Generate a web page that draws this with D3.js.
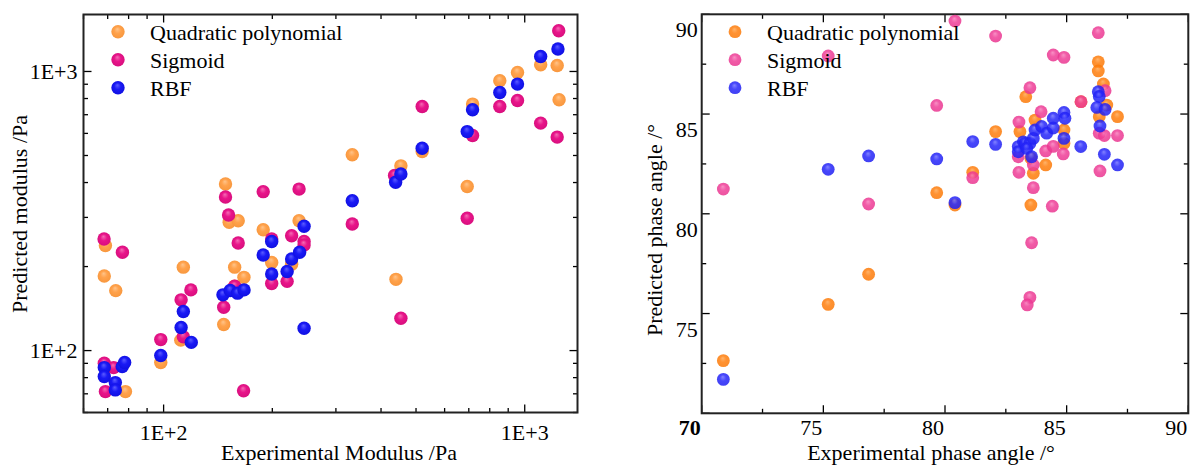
<!DOCTYPE html>
<html>
<head>
<meta charset="utf-8">
<script src="https://cdn.jsdelivr.net/npm/d3@7"></script>
<style>
body { margin:0; background:#fff; }
svg text { font-family: "Liberation Serif", "Times New Roman", serif; fill:#000; }
</style>
</head>
<body>
<div id="chart"></div>
<script>
////////////////////////////////////////////////////
// left panel : modulus, Pa (experimental vs predicted)
var modQuadX = [69.0, 68.5, 73.7, 78.4, 98.2, 113.4, 111.6, 148.4, 151.9, 160.9, 157.3, 166.9, 146.7, 157.3, 188.7, 199.2, 226.2, 237.2, 440, 333, 454, 520, 693, 717, 853, 955, 1107, 1230, 1245];
var modQuadY = [238, 185, 164, 71.3, 90.6, 199, 109, 395, 288, 292, 199, 183, 124, 170, 271, 207, 204, 292, 180, 503, 459, 517, 387, 764, 926, 992, 1057, 1051, 792];
var modSigX = [68.4, 76.9, 68.5, 72.7, 69.0, 98.2, 119, 111.8, 113.4, 148.4, 151.3, 160.9, 157.3, 146.7, 166.5, 188.7, 199.2, 199.2, 219.8, 226.2, 237.2, 244.9, 244.9, 333, 436, 454, 520, 717, 693, 853, 955, 1107, 1230, 1242];
var modSigY = [251, 225, 90.1, 86.9, 71.3, 109.5, 165, 152, 112, 355, 306, 243, 170, 143, 71.8, 371, 251, 174, 177, 258, 379, 246, 239, 284, 424, 130.6, 749, 590, 298, 749, 787, 653, 582, 1399];
var modRbfX = [68.5, 68.5, 76.8, 78.0, 73.5, 73.5, 98.2, 113.4, 111.8, 119.3, 146, 152.9, 160.2, 167, 188.7, 199.2, 199.2, 219.8, 226.2, 238, 244.9, 244.9, 333, 439, 454, 520, 693, 717, 853, 955, 1107, 1236];
var modRbfY = [86.9, 80.7, 87.6, 90.6, 76.8, 72.3, 96.0, 138, 120.9, 107, 158.4, 164.2, 160.6, 165, 220, 246, 188, 192, 213, 225, 279, 120.3, 344, 401, 429, 531, 609, 729, 841, 901, 1132, 1203];
var modTicks = [100, 1000];
var modTickLabels = ["1E+2", "1E+3"];

// right panel : phase angle, degrees
var angQuadX = [70.89, 75.20, 76.86, 79.66, 80.41, 81.14, 82.08, 83.32, 83.08, 83.70, 83.63, 83.53, 83.53, 84.14, 84.89, 84.89, 85.59, 86.30, 86.30, 86.51, 86.65, 86.34, 87.09];
var angQuadY = [72.64, 75.46, 76.97, 81.06, 80.44, 82.08, 84.12, 85.87, 84.12, 84.70, 82.03, 80.44, 82.78, 82.45, 84.20, 83.53, 85.62, 87.62, 87.16, 86.51, 85.45, 84.87, 84.87];
var angSigX = [70.89, 75.20, 76.86, 79.66, 80.41, 81.14, 82.08, 83.04, 83.01, 83.04, 83.49, 83.63, 83.63, 83.56, 83.49, 83.38, 83.95, 84.14, 84.45, 84.41, 84.45, 84.89, 84.86, 85.59, 86.30, 86.58, 86.34, 86.55, 87.09, 86.37];
var angSigY = [81.24, 87.91, 80.49, 85.43, 89.66, 81.81, 88.91, 84.60, 82.86, 82.08, 86.32, 82.45, 81.31, 78.55, 75.81, 75.43, 85.12, 83.15, 83.38, 80.38, 87.96, 87.84, 83.00, 85.62, 89.08, 86.17, 84.04, 83.92, 83.92, 82.15];
var angRbfX = [70.89, 75.20, 76.86, 79.66, 80.41, 81.14, 82.08, 83.01, 83.01, 83.22, 83.29, 83.49, 83.63, 83.36, 83.56, 83.70, 83.97, 84.18, 84.45, 84.45, 84.89, 84.93, 84.89, 85.58, 86.30, 86.34, 86.24, 86.58, 86.37, 86.55, 87.09];
var angRbfY = [71.70, 82.23, 82.90, 82.75, 80.56, 83.62, 83.48, 83.37, 83.11, 83.61, 83.53, 83.53, 83.78, 83.28, 82.86, 84.20, 84.38, 84.04, 84.30, 84.79, 85.08, 84.79, 83.78, 83.37, 86.12, 85.88, 85.33, 85.23, 84.40, 82.98, 82.45];
var angTicks = [70, 75, 80, 85, 90];

var seriesNames = ["Quadratic polynomial", "Sigmoid", "RBF"];

///////////
var totalW = 1193, totalH = 467;
var svg = d3.select("#chart").append("svg")
	.attr("width", totalW)
	.attr("height", totalH);
var defs = svg.append("defs");

// shaded ball fill
function ballGradient(id, light, base, dark) {
	var g = defs.append("radialGradient")
		.attr("id", id)
		.attr("cx", "50%").attr("cy", "50%").attr("r", "55%")
		.attr("fx", "45%").attr("fy", "30%");
	g.append("stop").attr("offset", "0%").attr("stop-color", light);
	g.append("stop").attr("offset", "45%").attr("stop-color", base);
	g.append("stop").attr("offset", "100%").attr("stop-color", dark);
}
ballGradient("lq", "#ffc48a", "#ffa24c", "#f7963c");
ballGradient("ls", "#f46cb4", "#e8158a", "#d60e7c");
ballGradient("lr", "#5c5cff", "#1a1af5", "#0f0fe0");
ballGradient("rq", "#ffa650", "#ff7f0e", "#fa7806");
ballGradient("rs", "#f77dbb", "#ef3f98", "#e8338e");
ballGradient("rr", "#6d6dff", "#2727fa", "#1e1ef0");

function drawPanel(p) {
	var x = p.x, y = p.y;
	var g = svg.append("g");
	var x0 = x.range()[0], x1 = x.range()[1];
	var y0 = y.range()[0], y1 = y.range()[1];

	// ticks, inward on all four sides
	p.minorX.forEach(function(v) {
		var major = p.majorX.indexOf(v) >= 0, L = major ? 8 : 4.5;
		g.append("line").attr("x1", x(v)).attr("x2", x(v)).attr("y1", y0).attr("y2", y0 - L).attr("stroke", "#000").attr("stroke-width", 1.3);
		g.append("line").attr("x1", x(v)).attr("x2", x(v)).attr("y1", y1).attr("y2", y1 + L).attr("stroke", "#000").attr("stroke-width", 1.3);
	});
	p.minorY.forEach(function(v) {
		var major = p.majorY.indexOf(v) >= 0, L = major ? 8 : 4.5;
		g.append("line").attr("y1", y(v)).attr("y2", y(v)).attr("x1", x0).attr("x2", x0 + L).attr("stroke", "#000").attr("stroke-width", 1.3);
		g.append("line").attr("y1", y(v)).attr("y2", y(v)).attr("x1", x1).attr("x2", x1 - L).attr("stroke", "#000").attr("stroke-width", 1.3);
	});
	g.append("rect")
		.attr("x", x0).attr("y", y1)
		.attr("width", x1 - x0).attr("height", y0 - y1)
		.attr("fill", "none").attr("stroke", "#222").attr("stroke-width", 2);

	// tick labels
	g.selectAll("text.xl").data(p.xLabels).enter().append("text")
		.attr("x", function(d) { return x(d.v) + p.xLabelDx; })
		.attr("y", y0 + p.xLabelDy)
		.attr("text-anchor", "middle")
		.attr("font-size", 22)
		.attr("font-weight", function(d) { return d.bold ? "bold" : "normal"; })
		.text(function(d) { return d.t; });
	g.selectAll("text.yl").data(p.yLabels).enter().append("text")
		.attr("x", x0 - p.yLabelDx)
		.attr("y", function(d) { return y(d.v) + p.yLabelDy; })
		.attr("text-anchor", "end")
		.attr("font-size", 22)
		.text(function(d) { return d.t; });

	// axis titles
	g.append("text")
		.attr("x", p.xTitlePos[0]).attr("y", p.xTitlePos[1])
		.attr("text-anchor", "middle").attr("font-size", 22)
		.text(p.xTitle);
	g.append("text")
		.attr("transform", "translate(" + p.yTitlePos[0] + "," + p.yTitlePos[1] + ") rotate(-90)")
		.attr("text-anchor", "middle").attr("font-size", 22)
		.text(p.yTitle);

	// points
	p.series.forEach(function(s) {
		var pts = s.xs.map(function(v, i) { return [v, s.ys[i]]; });
		g.selectAll(null).data(pts).enter().append("circle")
			.attr("cx", function(d) { return x(d[0]); })
			.attr("cy", function(d) { return y(d[1]); })
			.attr("r", p.r)
			.attr("fill", "url(#" + s.fill + ")")
			.attr("fill-opacity", p.opacity);
	});

	// legend
	p.series.forEach(function(s, i) {
		var ly = p.legendPos[1] + i * 28;
		g.append("circle")
			.attr("cx", p.legendPos[0]).attr("cy", ly).attr("r", p.r)
			.attr("fill", "url(#" + s.fill + ")")
			.attr("fill-opacity", p.opacity);
		g.append("text")
			.attr("x", p.legendPos[0] + 32).attr("y", ly + 8)
			.attr("font-size", 22)
			.text(seriesNames[i]);
	});
}

/////////// LEFT
var xMod = d3.scaleLog().domain([60, 1400]).range([83.5, 577.5]);
var yMod = d3.scaleLog().domain([60, 1600]).range([412.5, 14.5]);
var modMinor = d3.range(60, 100, 10).concat(d3.range(100, 1000, 100)).concat([1000]);
drawPanel({
	x: xMod, y: yMod,
	minorX: modMinor, majorX: modTicks,
	minorY: modMinor, majorY: modTicks,
	xLabels: modTicks.map(function(v, i) { return {v: v, t: modTickLabels[i]}; }),
	yLabels: modTicks.map(function(v, i) { return {v: v, t: modTickLabels[i]}; }),
	xLabelDx: 0, xLabelDy: 27, yLabelDx: 6, yLabelDy: 7.5,
	xTitle: "Experimental Modulus /Pa", xTitlePos: [339, 460],
	yTitle: "Predicted modulus /Pa", yTitlePos: [27, 214],
	r: 6.7, opacity: 1,
	legendPos: [118, 31.7],
	series: [
		{xs: modQuadX, ys: modQuadY, fill: "lq"},
		{xs: modSigX, ys: modSigY, fill: "ls"},
		{xs: modRbfX, ys: modRbfY, fill: "lr"}
	]
});

/////////// RIGHT
var xAng = d3.scaleLinear().domain([70, 90]).range([701.7, 1188.3]);
var yAng = d3.scaleLinear().domain([70, 90]).range([413.3, 14.3]);
var angMinor = d3.range(70, 90.1, 2.5);
drawPanel({
	x: xAng, y: yAng,
	minorX: angMinor, majorX: angTicks,
	minorY: angMinor, majorY: angTicks,
	xLabels: angTicks.map(function(v, i) { return {v: v, t: String(v), bold: i == 0}; }),
	yLabels: angTicks.slice(1).map(function(v) { return {v: v, t: String(v)}; }),
	xLabelDx: -12, xLabelDy: 22, yLabelDx: 4, yLabelDy: 23,
	xTitle: "Experimental phase angle /\u00b0", xTitlePos: [931, 460],
	yTitle: "Predicted phase angle /\u00b0", yTitlePos: [662, 230],
	r: 6.4, opacity: 0.85,
	legendPos: [735, 31.7],
	series: [
		{xs: angQuadX, ys: angQuadY, fill: "rq"},
		{xs: angSigX, ys: angSigY, fill: "rs"},
		{xs: angRbfX, ys: angRbfY, fill: "rr"}
	]
});
////////////////////////////////////////////////////
</script>
</body>
</html>
